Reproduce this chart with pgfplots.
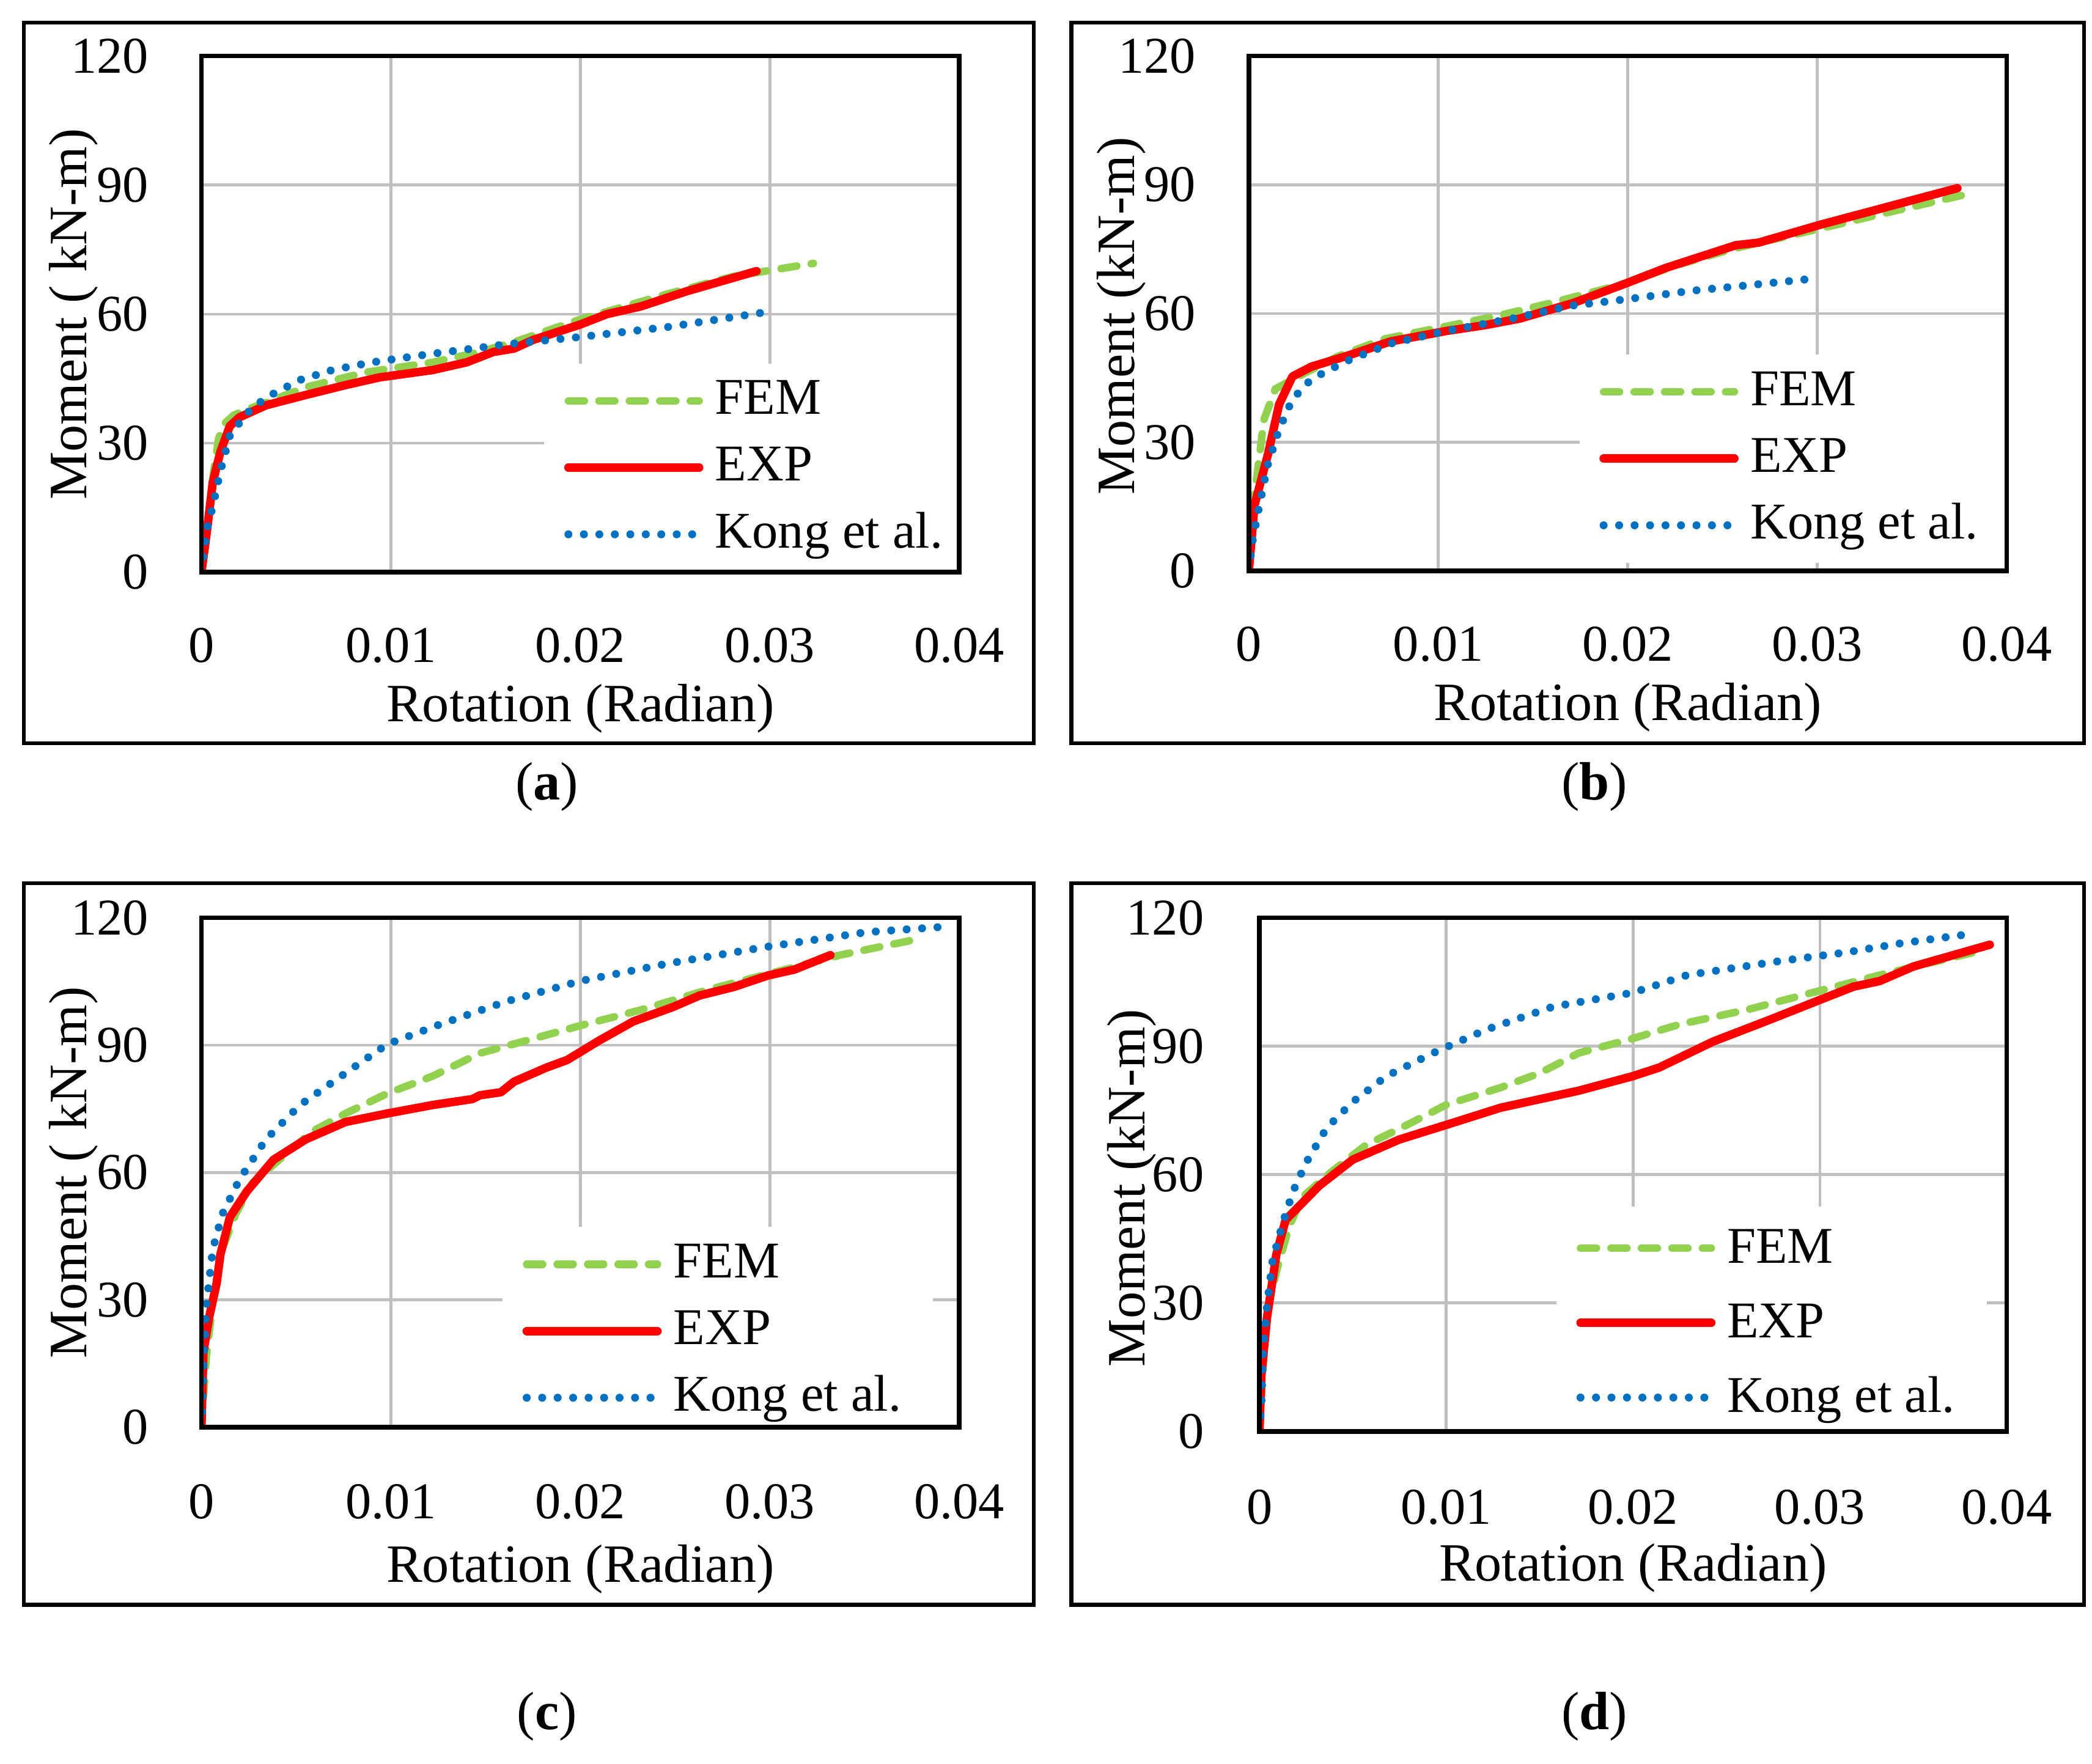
\documentclass[border=0pt]{standalone}
\usepackage{fontspec}
\setmainfont{Liberation Serif}
\usepackage{pgfplots}
\pgfplotsset{compat=1.18}

\definecolor{femgreen}{RGB}{146,208,80}
\definecolor{expred}{RGB}{255,0,0}
\definecolor{kongblue}{RGB}{0,112,192}
\definecolor{gridgray}{RGB}{191,191,191}
\newcommand\fs{\fontsize{11.5}{13}\selectfont}
\newcommand\ts{\fontsize{11}{13}\selectfont}

\pgfplotsset{
  panel/.style={
    scale only axis, anchor=south west,
    xmin=0, xmax=0.04, ymin=0, ymax=120,
    scaled x ticks=false, scaled y ticks=false,
    xtick={0,0.01,0.02,0.03,0.04}, xticklabels={0,0.01,0.02,0.03,0.04},
    ytick={0,30,60,90,120}, yticklabels={0,30,60,90,120},
    major tick length=0pt,
    grid=major, grid style={line width=0.6pt, draw=gridgray},
    axis line style={line width=1pt, black},
    tick label style={font=\ts, inner sep=0pt},
    xticklabel style={anchor=north, yshift=-4.1mm},
    yticklabel style={anchor=east, xshift=-3.9mm},
    every axis x label/.style={at={(axis description cs:0.5,0)}, anchor=base, yshift=-11.2mm, font=\fs},
    every axis y label/.style={at={(axis description cs:0,0.5)}, xshift=-8.6mm, rotate=90, anchor=base, font=\fs},
    xlabel={Rotation (Radian)},
    legend style={draw=none, fill=white, anchor=north west,
      inner xsep=1.5mm, inner ysep=0.3mm, row sep=0pt, font=\ts,
      nodes={inner xsep=2.5pt, inner ysep=0pt, text height=3.5mm, text depth=1.5mm}},
    legend cell align=left,
    legend image code/.code={\draw[##1] (0mm,0mm) -- (9.8mm,0mm);},
  },
  fem/.style={femgreen, line width=1.6pt, line cap=round, dash pattern=on 3.4pt off 3.1pt},
  exp/.style={expred, line width=1.8pt, line cap=round, line join=round},
  kong/.style={kongblue, line width=1.7pt, line cap=round, dash pattern=on 0pt off 3.3pt},
}

\begin{document}
\begin{tikzpicture}
\useasboundingbox (0,0) rectangle (15.68,13.22);
\draw[line width=0.8pt] (0.18,7.65) rectangle (7.75,13.05);
\draw[line width=0.8pt] (8.03,7.65) rectangle (15.62,13.05);
\draw[line width=0.8pt] (0.18,1.19) rectangle (7.75,6.60);
\draw[line width=0.8pt] (8.03,1.19) rectangle (15.62,6.60);

% (a)
\begin{axis}[panel, name=pa, at={(1.51cm,8.93cm)}, width=5.68cm, height=3.87cm,
  ylabel={Moment ( kN-m)},
  legend style={at={(0.451,0.406)}}]
\addplot[fem] coordinates {(0,0) (0.0003,10) (0.0006,22) (0.0009,31) (0.0012,34.5) (0.0017,36.5) (0.0025,38) (0.0034,39.4) (0.0055,43) (0.0087,46.5) (0.0122,48.8) (0.0145,51) (0.0165,53.5) (0.020,58.8) (0.0246,64.7) (0.0281,68.8) (0.0323,71.8)};
\addplot[exp] coordinates {(0,0) (0.0003,10) (0.0006,21) (0.0010,28) (0.0015,34) (0.0020,36) (0.0034,38.8) (0.0055,41.2) (0.0076,43.5) (0.0094,45.3) (0.0122,47) (0.0140,48.8) (0.0154,51.2) (0.0165,52) (0.0175,54) (0.0200,57.6) (0.0214,60) (0.0232,61.8) (0.0256,65.3) (0.0293,70)};
\addplot[kong] coordinates {(0,0) (0.00025,9.4) (0.0006,15.3) (0.0010,23.5) (0.0015,31.8) (0.0024,37) (0.0034,40.6) (0.0052,44.7) (0.0069,47) (0.0090,48.8) (0.0122,50.8) (0.0161,53) (0.0200,54.7) (0.0246,57) (0.0300,60.6)};
\legend{FEM,EXP,Kong et al.}
\end{axis}

% (b)
\begin{axis}[panel, name=pb, at={(9.36cm,8.94cm)}, width=5.68cm, height=3.86cm,
  ylabel={Moment (kN-m)}, every axis y label/.append style={xshift=-0.2mm},
  legend style={at={(0.435,0.422)}}]
\addplot[fem] coordinates {(0,0) (0.0003,17.6) (0.0008,35.3) (0.0014,42.4) (0.0026,45.3) (0.0047,50) (0.0072,54.1) (0.0104,57) (0.0132,59.5) (0.0160,62.5) (0.0199,67) (0.0224,71) (0.0255,75) (0.0298,79.4) (0.0337,83.5) (0.0377,87.6)};
\addplot[exp] coordinates {(0,0) (0.0003,15.3) (0.0010,27) (0.0016,38.8) (0.0023,45.3) (0.0033,47.6) (0.0051,50) (0.0075,53.5) (0.0104,55.9) (0.0125,57.3) (0.0143,58.8) (0.0171,62.4) (0.0199,67) (0.0220,70.6) (0.0257,75.9) (0.0269,76.5) (0.0301,80.6) (0.0374,89.2)};
\addplot[kong] coordinates {(0,0) (0.0002,7) (0.0005,14) (0.0010,24.7) (0.0016,33) (0.0023,40) (0.0033,44.7) (0.0051,48.8) (0.0075,53) (0.0104,55.9) (0.0139,58.8) (0.0170,61.8) (0.0199,63.3) (0.0234,65.3) (0.0262,66.5) (0.0300,68.2)};
\legend{FEM,EXP,Kong et al.}
\end{axis}

% (c)
\begin{axis}[panel, name=pc, at={(1.51cm,2.52cm)}, width=5.68cm, height=3.82cm,
  ylabel={Moment ( kN-m)},
  xticklabel style={yshift=-0.1mm}, every axis x label/.append style={yshift=-0.4mm},
  legend style={at={(0.396,0.395)}}]
\addplot[fem] coordinates {(0,0) (0.00025,16.3) (0.0006,29.8) (0.0011,42) (0.0018,50.2) (0.0027,57.6) (0.0041,63) (0.0059,69.8) (0.0076,73.9) (0.0098,78.6) (0.0122,82.7) (0.0147,88.1) (0.0175,91.5) (0.0200,94.6) (0.0232,98.3) (0.0267,103) (0.0302,107.1) (0.0337,111.2) (0.0374,114.6)};
\addplot[exp] coordinates {(0,0) (0.0001,17.6) (0.0004,25.8) (0.0008,33.9) (0.0010,40.7) (0.0015,49.5) (0.0024,55.6) (0.0038,63) (0.0055,67.8) (0.0076,71.9) (0.0098,73.9) (0.0122,75.9) (0.0143,77.3) (0.0147,78.2) (0.0158,78.9) (0.0165,81.4) (0.0182,84.7) (0.0193,86.5) (0.0210,91.1) (0.0228,95.6) (0.0249,99) (0.0263,101.7) (0.0281,103.7) (0.0299,106.4) (0.0313,107.8) (0.0332,111.2)};
\addplot[kong] coordinates {(0,0) (0.0001,13.6) (0.00025,28.5) (0.0006,42) (0.0011,50.2) (0.0020,58.3) (0.0034,67.8) (0.0052,75.9) (0.0076,83.4) (0.0098,90.2) (0.0126,94.9) (0.0161,100.3) (0.0200,105.1) (0.0246,109.2) (0.0299,113.2) (0.0351,116.6) (0.0396,118)};
\legend{FEM,EXP,Kong et al.}
\end{axis}

% (d)
\begin{axis}[panel, name=pd, at={(9.44cm,2.49cm)}, width=5.60cm, height=3.85cm,
  ylabel={Moment (kN-m)}, every axis y label/.append style={xshift=-1.0mm},
  xticklabel style={yshift=-0.2mm},
  yticklabel style={xshift=-0.2mm},
  legend style={at={(0.396,0.439)},
    nodes={inner xsep=2.5pt, inner ysep=0pt, text height=3.9mm, text depth=1.7mm}}]
\addplot[fem] coordinates {(0,0) (0.0002,15.7) (0.0004,27.8) (0.0009,37.3) (0.0016,48) (0.0023,54.8) (0.0039,60.8) (0.0057,66.9) (0.0079,71.6) (0.0100,76.3) (0.0129,80.3) (0.0150,83.7) (0.0171,88.4) (0.0200,91.8) (0.0225,95.1) (0.0261,98.5) (0.0296,102.5) (0.0332,106.6) (0.0389,112.6)};
\addplot[exp] coordinates {(0,0) (0.0001,13) (0.0004,26.5) (0.0009,41.3) (0.0014,49.4) (0.0032,57.4) (0.0050,63.5) (0.0075,68.2) (0.0100,71.6) (0.0129,75.6) (0.0171,79.6) (0.0200,83) (0.0214,85) (0.0243,91.1) (0.0271,95.8) (0.0300,100.8) (0.0318,103.9) (0.0332,105.2) (0.0350,108.6) (0.0391,113.7)};
\addplot[kong] coordinates {(0,0) (0.0001,6.3) (0.0002,19.8) (0.0004,29.2) (0.0007,40) (0.0013,49.4) (0.0018,56.1) (0.0025,62.8) (0.0036,70.9) (0.0050,77) (0.0068,83) (0.0093,88.4) (0.0121,93.8) (0.0157,99.2) (0.0200,102.5) (0.0229,106.6) (0.0279,109.9) (0.0314,111.9) (0.0343,114) (0.0377,116)};
\legend{FEM,EXP,Kong et al.}
\end{axis}

% plot-area borders drawn again above the legend boxes
\foreach \p in {pa,pb,pc,pd}
  \draw[line width=1pt] (\p.south west) rectangle (\p.north east);

\node[font=\fs] at (4.10,7.32) {(\textbf{a})};
\node[font=\fs] at (11.95,7.32) {(\textbf{b})};
\node[font=\fs] at (4.10,0.35) {(\textbf{c})};
\node[font=\fs] at (11.95,0.35) {(\textbf{d})};
\end{tikzpicture}
\end{document}
